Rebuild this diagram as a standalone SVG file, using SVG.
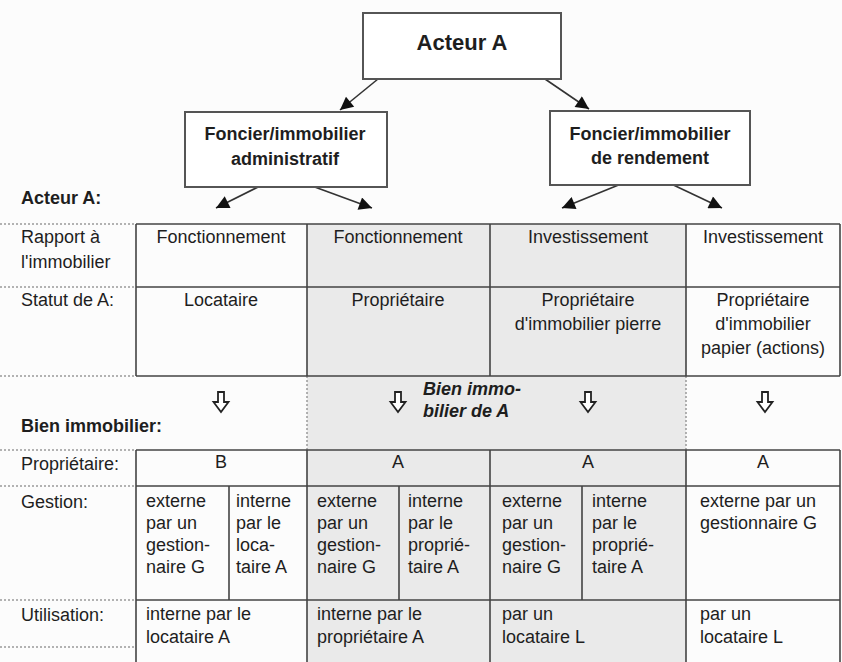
<svg xmlns="http://www.w3.org/2000/svg" width="842" height="662" viewBox="0 0 842 662">
<defs>
<style>
text{font-family:"Liberation Sans",Arial,sans-serif;fill:#1e1e1e}
.t{font-size:18px}
.lab{font-size:18px}
.c{text-anchor:middle}
.b{font-weight:bold}
.box{fill:#fff;stroke:#555;stroke-width:2}
.con{stroke:#333;stroke-width:1.6;fill:none;marker-end:url(#ah)}
.tl{stroke:#444;stroke-width:1.6;fill:none}
.dot{stroke:#999;stroke-width:1.5;stroke-dasharray:2 2;fill:none}
.da{fill:#fff;stroke:#222;stroke-width:1.8}
</style>
<marker id="ah" viewBox="0 0 10 10" refX="10" refY="5" markerWidth="15" markerHeight="13" markerUnits="userSpaceOnUse" orient="auto">
<path d="M0,0 L10,5 L0,10 z" fill="#111"/>
</marker>
<path id="down" class="da" d="M-3,-10 H3 V0 H7.5 L0,10 L-7.5,0 H-3 Z"/>
</defs>
<rect width="842" height="662" fill="#fcfcfc"/>
<rect x="307" y="224" width="379" height="438" fill="#eaeaea"/>

<g id="connectors">
<line class="con" x1="378" y1="79" x2="340" y2="110"/>
<line class="con" x1="545" y1="79" x2="589" y2="109"/>
<line class="con" x1="282" y1="175" x2="216" y2="208"/>
<line class="con" x1="282" y1="175" x2="372" y2="208"/>
<line class="con" x1="648" y1="173" x2="562" y2="208"/>
<line class="con" x1="648" y1="173" x2="722" y2="208"/>
</g>

<g id="acteur-a">
<rect class="box" x="363" y="13" width="198" height="66"/>
<text class="b c" x="462" y="50" font-size="22">Acteur A</text>
</g>
<g id="foncier-admin">
<rect class="box" x="185" y="112" width="202" height="75"/>
<text class="b c" x="285" y="140" font-size="18">Foncier/immobilier</text>
<text class="b c" x="285" y="165" font-size="18">administratif</text>
</g>
<g id="foncier-rendement">
<rect class="box" x="550" y="111" width="200" height="74"/>
<text class="b c" x="650" y="140" font-size="18">Foncier/immobilier</text>
<text class="b c" x="650" y="164" font-size="18">de rendement</text>
</g>

<g id="labels">
<text class="lab b" x="21" y="204">Acteur A:</text>
<text class="lab" x="21" y="243">Rapport à</text>
<text class="lab" x="21" y="268">l'immobilier</text>
<text class="lab" x="21" y="306">Statut de A:</text>
<text class="lab b" x="21" y="432">Bien immobilier:</text>
<text class="lab" x="21" y="470">Propriétaire:</text>
<text class="lab" x="21" y="508">Gestion:</text>
<text class="lab" x="21" y="621">Utilisation:</text>
</g>

<g id="dotted-lines">
<line class="dot" x1="0" y1="224" x2="136" y2="224"/>
<line class="dot" x1="0" y1="287" x2="136" y2="287"/>
<line class="dot" x1="0" y1="376" x2="136" y2="376"/>
<line class="dot" x1="0" y1="450" x2="136" y2="450"/>
<line class="dot" x1="0" y1="486" x2="136" y2="486"/>
<line class="dot" x1="0" y1="600" x2="136" y2="600"/>
<line class="dot" x1="0" y1="647" x2="136" y2="647"/>
<line class="dot" x1="307" y1="376" x2="307" y2="450"/>
<line class="dot" x1="686" y1="376" x2="686" y2="450"/>
</g>

<g id="table-acteur">
<path class="tl" d="M136,224 H840 M136,287 H840 M136,376 H840 M136,224 V376 M307,224 V376 M490,224 V376 M686,224 V376 M840,224 V376"/>
<text class="t c" x="221" y="243">Fonctionnement</text>
<text class="t c" x="398" y="243">Fonctionnement</text>
<text class="t c" x="588" y="243">Investissement</text>
<text class="t c" x="763" y="243">Investissement</text>
<text class="t c" x="221" y="306">Locataire</text>
<text class="t c" x="398" y="306">Propriétaire</text>
<text class="t c" x="588" y="306">Propriétaire</text>
<text class="t c" x="588" y="330">d'immobilier pierre</text>
<text class="t c" x="763" y="306">Propriétaire</text>
<text class="t c" x="763" y="330">d'immobilier</text>
<text class="t c" x="763" y="354">papier (actions)</text>
</g>

<g id="transition">
<use href="#down" x="221" y="402"/>
<use href="#down" x="398" y="402"/>
<use href="#down" x="588" y="402"/>
<use href="#down" x="765" y="402"/>
<text class="b" x="423" y="395" font-size="18" font-style="italic">Bien immo-</text>
<text class="b" x="423" y="417" font-size="18" font-style="italic">bilier de A</text>
</g>

<g id="table-bien">
<path class="tl" d="M136,450 H840 M136,486 H840 M136,600 H840 M136,450 V662 M307,450 V662 M490,450 V662 M686,450 V662 M840,450 V662 M229,486 V600 M399,486 V600 M582,486 V600"/>
<text class="t c" x="221" y="468">B</text>
<text class="t c" x="398" y="468">A</text>
<text class="t c" x="588" y="468">A</text>
<text class="t c" x="763" y="468">A</text>

<text class="t" x="146" y="507">externe</text>
<text class="t" x="146" y="529">par un</text>
<text class="t" x="146" y="551">gestion-</text>
<text class="t" x="146" y="573">naire G</text>
<text class="t" x="236" y="507">interne</text>
<text class="t" x="236" y="529">par le</text>
<text class="t" x="236" y="551">loca-</text>
<text class="t" x="236" y="573">taire A</text>

<text class="t" x="317" y="507">externe</text>
<text class="t" x="317" y="529">par un</text>
<text class="t" x="317" y="551">gestion-</text>
<text class="t" x="317" y="573">naire G</text>
<text class="t" x="408" y="507">interne</text>
<text class="t" x="408" y="529">par le</text>
<text class="t" x="408" y="551">proprié-</text>
<text class="t" x="408" y="573">taire A</text>

<text class="t" x="502" y="507">externe</text>
<text class="t" x="502" y="529">par un</text>
<text class="t" x="502" y="551">gestion-</text>
<text class="t" x="502" y="573">naire G</text>
<text class="t" x="592" y="507">interne</text>
<text class="t" x="592" y="529">par le</text>
<text class="t" x="592" y="551">proprié-</text>
<text class="t" x="592" y="573">taire A</text>

<text class="t" x="700" y="507">externe par un</text>
<text class="t" x="700" y="529">gestionnaire G</text>

<text class="t" x="146" y="620">interne par le</text>
<text class="t" x="146" y="643">locataire A</text>
<text class="t" x="317" y="620">interne par le</text>
<text class="t" x="317" y="643">propriétaire A</text>
<text class="t" x="502" y="620">par un</text>
<text class="t" x="502" y="643">locataire L</text>
<text class="t" x="700" y="620">par un</text>
<text class="t" x="700" y="643">locataire L</text>
</g>
</svg>
